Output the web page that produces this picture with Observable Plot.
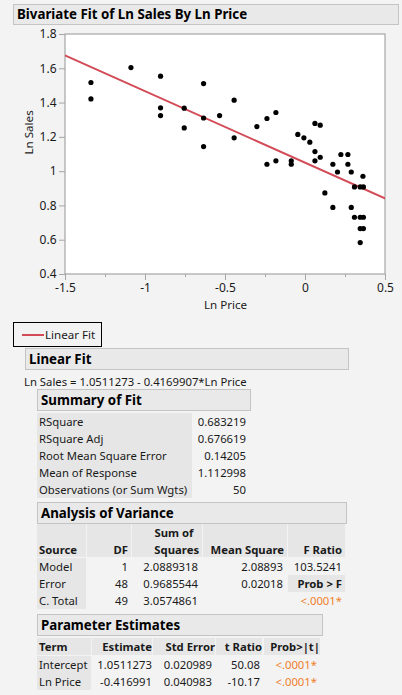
<!DOCTYPE html>
<html><head><meta charset="utf-8">
<script src="https://cdn.jsdelivr.net/npm/d3@7"></script>
<script src="https://cdn.jsdelivr.net/npm/@observablehq/plot@0.6"></script>
<style>
body{margin:0;background:#f3f3f3;font-family:"Noto Sans","Open Sans",sans-serif;color:#1a1a1a;}
#page{position:relative;width:402px;height:695px;overflow:hidden;}
.abs{position:absolute;}
.hdr{position:absolute;background:#e9e9e9;border:1px solid #c4c4c4;box-sizing:border-box;font-weight:bold;font-size:13.3px;line-height:19px;padding-left:3px;color:#000;}
.cell{position:absolute;font-size:11.3px;line-height:17px;white-space:nowrap;}
.lab{background:#e6e6e6;}
.r{text-align:right;}
.b{font-weight:bold;}
.or{color:#f07f2c;}
</style></head>
<body><div id="page">
<div class="hdr" style="left:13px;top:4px;width:386px;height:21px;font-size:13.3px;">Bivariate Fit of Ln Sales By Ln Price</div>
<div id="chart" class="abs" style="left:0;top:26px;"></div>
<div class="abs" style="left:13px;top:322px;width:89px;height:25px;border:1px solid #000;box-sizing:border-box;">
  <div class="abs" style="left:8px;top:11px;width:22px;height:2px;background:#d24b57;"></div>
  <div class="cell" style="left:31px;top:3px;font-size:11.6px;" id="legtext"></div>
</div>
<div id="tables"></div>
</div>
<script>
// ---- data ----
const lnPrice = [-1.341,-1.341,-1.091,-0.906,-0.906,-0.906,-0.758,-0.758,-0.637,-0.637,-0.637,-0.537,-0.446,-0.446,-0.304,-0.241,-0.185,-0.048,-0.010,0.027,0.059,0.092,0.059,0.092,0.221,0.265,-0.241,-0.185,-0.089,-0.089,0.059,0.171,0.265,0.200,0.286,0.359,0.306,0.342,0.362,0.121,0.171,0.286,0.306,0.342,0.362,0.342,0.362,0.342];
const lnSales = [1.520,1.424,1.607,1.557,1.372,1.327,1.370,1.255,1.514,1.313,1.146,1.327,1.417,1.197,1.263,1.310,1.345,1.217,1.197,1.172,1.281,1.271,1.117,1.084,1.100,1.100,1.043,1.063,1.063,1.043,1.063,1.043,1.043,0.998,0.998,0.973,0.911,0.911,0.911,0.876,0.791,0.791,0.734,0.734,0.734,0.668,0.668,0.586];
const fitIntercept = [1.0511273];
const fitSlope = [-0.4169907];
const xTicks = [-1.5,-1,-0.5,0,0.5];
const xMinorTicks = [-1.25,-0.75,-0.25,0.25];
const yTicks = [0.4,0.6,0.8,1,1.2,1.4,1.6,1.8];
const xDomain = [-1.5,0.5];
const yDomain = [0.4,1.8];
const legendLabel = ["Linear Fit"];
const equationText = ["Ln Sales = 1.0511273 - 0.4169907*Ln Price"];

const summaryLabels = ["RSquare","RSquare Adj","Root Mean Square Error","Mean of Response","Observations (or Sum Wgts)"];
const summaryValues = ["0.683219","0.676619","0.14205","1.112998","50"];

const anovaSource = ["Model","Error","C. Total"];
const anovaDF = ["1","48","49"];
const anovaSS = ["2.0889318","0.9685544","3.0574861"];
const anovaMS = ["2.08893","0.02018",""];
const anovaF = ["103.5241","Prob > F","<.0001*"];

const peTerm = ["Intercept","Ln Price"];
const peEstimate = ["1.0511273","-0.416991"];
const peStdErr = ["0.020989","0.040983"];
const peT = ["50.08","-10.17"];
const peProb = ["<.0001*","<.0001*"];

// ---- chart ----
const pts = lnPrice.map((x,i)=>({x, y: lnSales[i]}));
const fitLine = xDomain.map(x=>({x, y: fitIntercept[0] + fitSlope[0]*x}));
const fmt = d => String(d);
const chart = Plot.plot({
  width: 402, height: 292,
  marginTop: 8, marginBottom: 44, marginLeft: 65, marginRight: 17,
  style: {background: "transparent", fontFamily: "Noto Sans, sans-serif", fontSize: "12px", color: "#1a1a1a"},
  x: {domain: xDomain},
  y: {domain: yDomain},
  marks: [
    Plot.rect([0], {x1: xDomain[0], x2: xDomain[1], y1: yDomain[0], y2: yDomain[1], fill: "#fff", stroke: "#a6a6a6", strokeWidth: 1.2}),
    Plot.axisX({ticks: xTicks, tickFormat: fmt, tickSize: 6, tickPadding: 3, stroke: "#a6a6a6", fontSize: 12, label: null}),
    Plot.axisX({ticks: xMinorTicks, tickFormat: () => "", tickSize: 3, stroke: "#a6a6a6", label: null}),
    Plot.axisY({ticks: yTicks, tickFormat: fmt, tickSize: 6, tickPadding: 3, stroke: "#a6a6a6", fontSize: 12, label: null}),
    Plot.line(fitLine, {x: "x", y: "y", stroke: "#d24b57", strokeWidth: 2, clip: true}),
    Plot.dot(pts, {x: "x", y: "y", r: 2.6, fill: "#000", stroke: "none"}),
    Plot.text(["Ln Price"], {x: (xDomain[0]+xDomain[1])/2, y: yDomain[0], text: d=>d, fontSize: 11.6, lineAnchor: "top", dy: 26}),
    Plot.text(["Ln Sales"], {frameAnchor: "left", dx: -36, rotate: -90, text: d=>d, fontSize: 11.6})
  ]
});
document.getElementById("chart").appendChild(chart);
document.getElementById("legtext").textContent = legendLabel[0];

// ---- tables ----
const T = document.getElementById("tables");
function cell(text, left, top, width, cls, extra){
  const d = document.createElement("div");
  d.className = "cell " + (cls||"");
  d.style.left = left+"px"; d.style.top = top+"px";
  if (width) d.style.width = width+"px";
  if (extra) Object.assign(d.style, extra);
  d.textContent = text;
  T.appendChild(d);
  return d;
}
function hdr(text, left, top, width){
  const d = document.createElement("div");
  d.className = "hdr";
  Object.assign(d.style, {left:left+"px", top:top+"px", width:width+"px", height:"22px", lineHeight:"20px"});
  d.textContent = text; T.appendChild(d);
}
hdr("Linear Fit", 25, 348, 324);
cell(equationText[0], 24, 373, null, "", {fontSize:"11.3px"});
hdr("Summary of Fit", 37, 389, 214);
summaryLabels.forEach((l,i)=>{
  cell(l, 37, 413+17*i, 153, "lab", {paddingLeft:"2px"});
  cell(summaryValues[i], 192, 413+17*i, 54, "r");
});
hdr("Analysis of Variance", 37, 502, 310);
const ah = 524, ahh = 33;
cell("", 37, ah, 47, "lab b", {height:ahh+"px", paddingLeft:"2px"}).innerHTML = "<br>Source";
cell("", 87, ah, 44, "lab b r", {height:ahh+"px"}).innerHTML = "<br>DF&nbsp;";
cell("", 132, ah, 70, "lab b r", {height:ahh+"px"}).innerHTML = "<div style='text-align:center;padding-left:14px'>Sum of</div>Squares&nbsp;";
cell("", 203, ah, 84, "lab b r", {height:ahh+"px"}).innerHTML = "<br>Mean Square&nbsp;";
cell("", 288, ah, 57, "lab b r", {height:ahh+"px"}).innerHTML = "<br>F Ratio&nbsp;";
anovaSource.forEach((s,i)=>{
  const y = 558+17*i;
  cell(s, 37, y, 47, "lab", {paddingLeft:"2px"});
  cell(anovaDF[i], 87, y, 41, "r");
  cell(anovaSS[i], 132, y, 66, "r");
  cell(anovaMS[i], 203, y, 80, "r");
  if (i===0) cell(anovaF[i], 288, y, 54, "r");
  if (i===1) cell(anovaF[i], 288, y, 54, "lab b r", {paddingRight:"3px"});
  if (i===2) cell(anovaF[i], 288, y, 54, "r or");
});
hdr("Parameter Estimates", 37, 614, 286);
const ph = 638;
cell("Term", 37, ph, 52, "lab b", {paddingLeft:"2px"});
cell("Estimate", 92, ph, 60, "lab b r");
cell("Std Error", 153, ph, 62, "lab b r");
cell("t Ratio", 216, ph, 46, "lab b r");
cell("Prob>|t|", 264, ph, 56, "lab b r");
peTerm.forEach((t,i)=>{
  const y = 656+17*i;
  cell(t, 37, y, 52, "lab", {paddingLeft:"2px"});
  cell(peEstimate[i], 92, y, 60, "r");
  cell(peStdErr[i], 153, y, 59, "r");
  cell(peT[i], 216, y, 44, "r");
  cell(peProb[i], 264, y, 53, "r or");
});
</script>
</body></html>
